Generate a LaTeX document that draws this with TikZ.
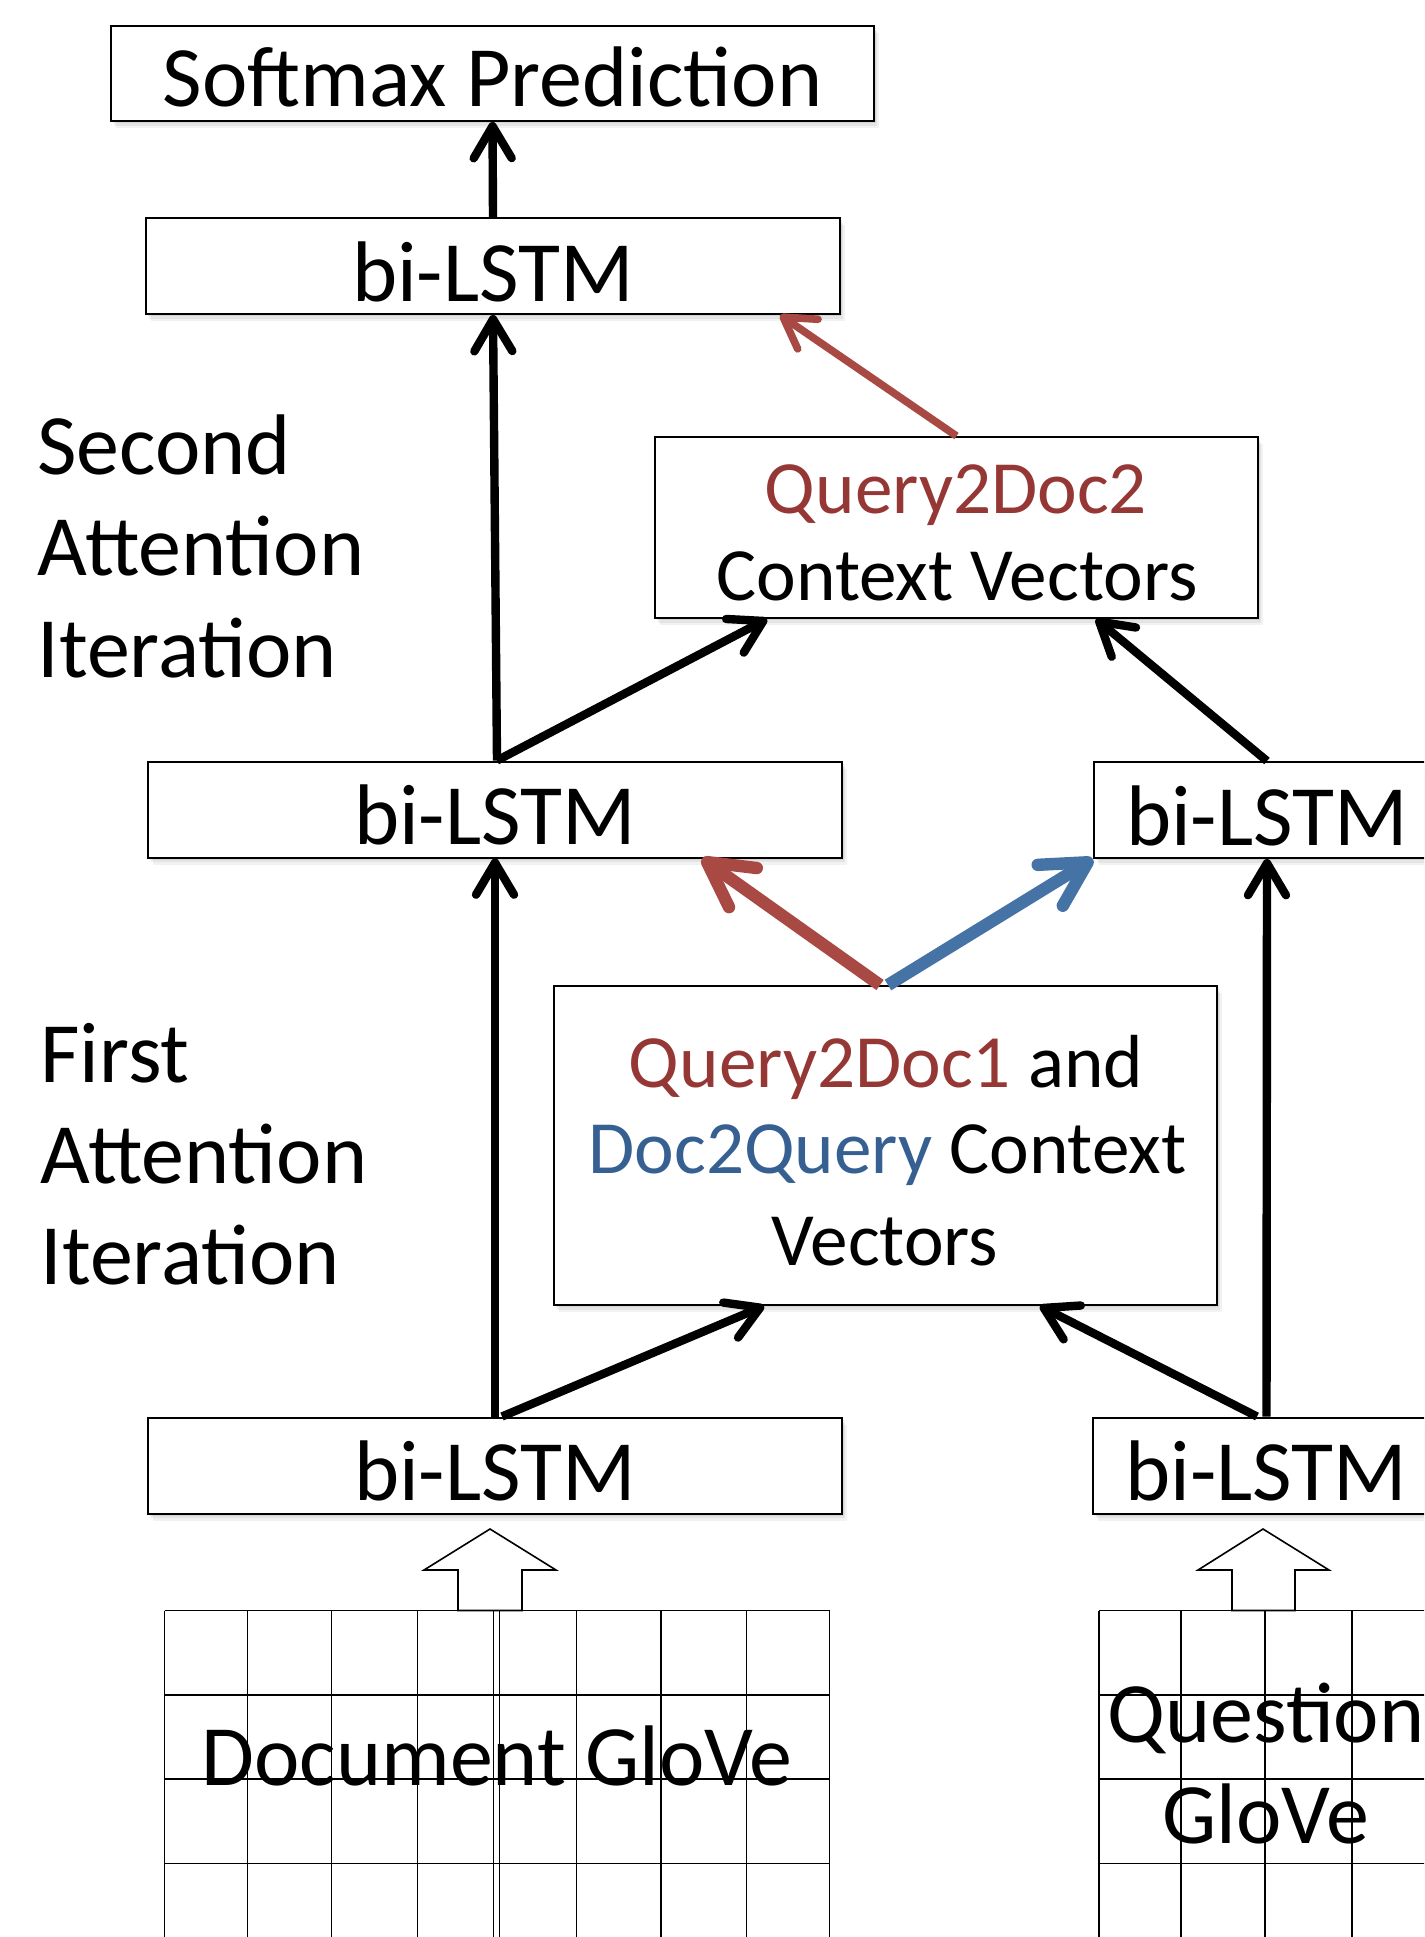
\documentclass[tikz,border=0pt]{standalone}
\usepackage{fontspec}
\setmainfont{Carlito}
\usetikzlibrary{arrows.meta,calc,shadows}

\definecolor{qred}{HTML}{953735}
\definecolor{qblue}{HTML}{376092}
\definecolor{ared}{HTML}{A84A43}
\definecolor{ablue}{HTML}{4673A6}

\newcommand{\bigsize}{\fontsize{43}{51}\selectfont}
\newcommand{\midsize}{\fontsize{37.6}{45}\selectfont}

\tikzset{
  softshadow/.style={
    drop shadow={shadow xshift=0.8pt,shadow yshift=-1.2pt,opacity=0.07,fill=black},
    drop shadow={shadow xshift=1.6pt,shadow yshift=-2.4pt,opacity=0.06,fill=black},
    drop shadow={shadow xshift=2.6pt,shadow yshift=-3.6pt,opacity=0.05,fill=black}},
  box/.style={draw=black,line width=1pt,fill=white,inner sep=0pt,softshadow},
  lstm/.style={box,minimum height=48pt,font=\bigsize,
    text height=35pt,text depth=0pt},
  bigtxt/.style={inner sep=0pt,anchor=base,font=\bigsize},
  midtxt/.style={inner sep=0pt,anchor=base,font=\midsize},
  sidetxt/.style={inner sep=0pt,anchor=base west,font=\bigsize},
  flow/.style={line width=4.2pt,
    -{Straight Barb[length=16pt,width=19pt,line cap=round,line join=round]}},
  redthin/.style={draw=ared,line width=3.8pt,
    -{Straight Barb[length=15pt,width=18pt,line cap=round,line join=round]}},
  thickflow/.style={line width=6.2pt,
    -{Straight Barb[length=22pt,width=24pt,line cap=round,line join=round]}},
  gridline/.style={line width=0.7pt},
  blockarrow/.style={draw=black,line width=0.8pt,fill=white,line join=miter}
}

\begin{document}
\begin{tikzpicture}[x=0.5pt,y=-0.5pt]
\useasboundingbox (0,0) rectangle (1424,1937);
\clip (0,0) rectangle (1424,1937);

% embedding grids
\foreach \gx in {164.5,247.4,331.7,417.5,493.6,499.4,576.5,660.8,746.6,829.5}
  \draw[gridline] (\gx,1610.5) -- (\gx,1960);
\foreach \gy in {1610.5,1695,1779,1863.5}
  \draw[gridline] (164.5,\gy) -- (829.5,\gy);
\foreach \gx in {1099,1181,1265,1352,1436}
  \draw[gridline] (\gx,1610.5) -- (\gx,1960);
\foreach \gy in {1610.5,1695,1779,1863.5}
  \draw[gridline] (1099,\gy) -- (1450,\gy);

\node[bigtxt] (docglove) at (497,1785) {Document GloVe};
\node[bigtxt] (qglove1) at (1266,1742) {Question};
\node[bigtxt] (qglove2) at (1266,1843) {GloVe};

% hollow input arrows
\draw[blockarrow] (458,1610.5) -- (458,1570) -- (424,1570) -- (490,1529)
  -- (556,1570) -- (522,1570) -- (522,1610.5) -- cycle;
\draw[blockarrow] (1232,1610.5) -- (1232,1570) -- (1198,1570) -- (1263,1529)
  -- (1329,1570) -- (1295,1570) -- (1295,1610.5) -- cycle;

% boxes
\node[box,minimum width=381.5pt,minimum height=47.5pt,
  font=\bigsize,text height=33.5pt,text depth=0pt]
  (soft) at (492.5,73.5) {Softmax Prediction};
\node[lstm,minimum width=347pt] (lstm3) at (493,266) {bi-LSTM};
\node[box,minimum width=301.5pt,minimum height=90.5pt] (q2d2) at (956.5,527.5) {};
\node[lstm,minimum width=347pt] (lstm2d) at (495,809.5) {bi-LSTM};
\node[lstm,minimum width=173pt] (lstm2q) at (1267,810) {bi-LSTM};
\node[box,minimum width=331.5pt,minimum height=159.5pt] (q2d1) at (885.5,1145.5) {};
\node[lstm,minimum width=347pt] (lstm1d) at (495,1465.5) {bi-LSTM};
\node[lstm,minimum width=173.5pt] (lstm1q) at (1266.5,1465.5) {bi-LSTM};

% box texts
\node[midtxt,text=qred] (q2d2a) at (956,513) {Query2Doc2};
\node[midtxt] (q2d2b) at (957,600) {Context Vectors};
\node[midtxt] (q2d1a) at (886,1087) {\textcolor{qred}{Query2Doc1} and};
\node[midtxt] (q2d1b) at (887.5,1173) {\textcolor{qblue}{Doc2Query} Context};
\node[midtxt] (q2d1c) at (885,1265) {Vectors};

% side labels
\node[sidetxt] (it2a) at (37,474) {Second};
\node[sidetxt] (it2b) at (37,575) {Attention};
\node[sidetxt] (it2c) at (37,677) {Iteration};
\node[sidetxt] (it1a) at (40,1082) {First};
\node[sidetxt] (it1b) at (40,1183) {Attention};
\node[sidetxt] (it1c) at (40,1284) {Iteration};

% connectors
\draw[flow] (lstm3.north) -- (soft.south);
\draw[flow] ($(lstm2d.north)+(2,0)$) -- (lstm3.south);
\draw[flow] ($(lstm2d.north)+(2,0)$) -- ($(q2d2.south west)+(113,0)$);
\draw[flow] (lstm2q.north) -- ($(q2d2.south west)+(442,0)$);
\draw[redthin] (q2d2.north) -- ($(lstm3.south east)+(-61,0)$);
\draw[thickflow,draw=ared] ($(q2d1.north)+(-5.5,0)$) -- ($(lstm2d.south east)+(-141,0)$);
\draw[thickflow,draw=ablue] ($(q2d1.north)+(2.5,0)$) -- (lstm2q.south west);
\draw[flow] (lstm1d.north) -- (lstm2d.south);
\draw[flow] ($(lstm1d.north)+(7,0)$) -- ($(q2d1.south west)+(211,0)$);
\draw[flow] ($(lstm1q.north)+(-9.5,0)$) -- ($(q2d1.south west)+(487,0)$);
\draw[flow] (lstm1q.north) -- (lstm2q.south);
\end{tikzpicture}
\end{document}
